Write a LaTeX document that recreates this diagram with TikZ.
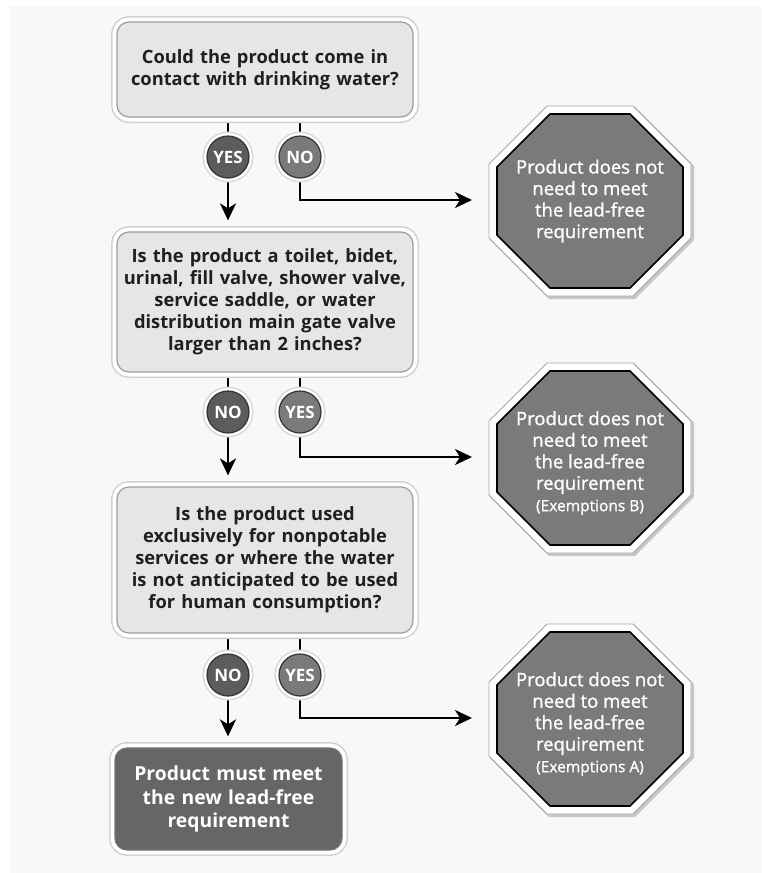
\documentclass[tikz,border=0pt]{standalone}
\usepackage{fontspec}
\setmainfont{Open Sans}
\newfontfamily\octfont[FakeBold=1.2]{Open Sans}
\usetikzlibrary{arrows.meta}
\definecolor{bgc}{HTML}{F8F8F8}
\definecolor{qfill}{HTML}{E6E6E6}
\definecolor{qedge}{HTML}{9C9C9C}
\definecolor{octfill}{HTML}{7A7A7A}
\definecolor{darkc}{HTML}{5C5C5C}
\definecolor{lightc}{HTML}{7A7A7A}
\definecolor{endfill}{HTML}{666666}
\pgfdeclarelayer{bglayer}
\pgfdeclarelayer{linelayer}
\pgfsetlayers{bglayer,linelayer,main}
% octagon path: cx, cy, half width, half height, corner cut
\newcommand\octpath[5]{(#1-#3+#5,#2-#4) -- (#1+#3-#5,#2-#4) -- (#1+#3,#2-#4+#5) -- (#1+#3,#2+#4-#5) -- (#1+#3-#5,#2+#4) -- (#1-#3+#5,#2+#4) -- (#1-#3,#2+#4-#5) -- (#1-#3,#2-#4+#5) -- cycle}
\newcommand\octagon[2]{%
  \fill[black!22] \octpath{#1+2}{#2+2}{102}{96}{59};
  \fill[white,draw=black!35,line width=0.8pt] \octpath{#1}{#2}{101}{95}{58};
  \fill[octfill,draw=black,line width=1.6pt] \octpath{#1}{#2}{93}{87}{53};
}
\tikzset{
  ring/.style={preaction={draw=black!18,line width=12pt},preaction={draw=white,line width=9pt}},
  qbox/.style={ring,draw=qedge,line width=1.2pt,fill=qfill,rounded corners=12pt,
    minimum width=296pt,text width=292pt,align=center,inner sep=0pt,
    font=\bfseries\fontsize{18.3}{22}\selectfont,text=black!88},
  endbox/.style={ring,draw=black!55,line width=1.2pt,fill=endfill,rounded corners=12pt,
    minimum width=227pt,minimum height=102pt,text width=222pt,align=center,inner sep=0pt,
    font=\bfseries\fontsize{19.3}{23.5}\selectfont,text=white},
  ansc/.style={circle,minimum size=42pt,inner sep=0pt,draw=black!80,line width=1.2pt,
    preaction={draw=black!15,line width=9pt},preaction={draw=white,line width=6pt},
    font=\bfseries\fontsize{17}{18}\selectfont,text=white},
  mainans/.style={ansc,fill=darkc},
  sideans/.style={ansc,fill=lightc},
  octtext/.style={align=center,inner sep=0pt,text=white,font=\octfont\fontsize{18.5}{21.5}\selectfont},
  conn/.style={line width=2.6pt,black},
  arr/.style={conn,-{Stealth[length=17pt,width=16pt,inset=5pt]}},
}
\newcommand\exmp[1]{{\fontsize{15.5}{21.5}\selectfont #1}}
\begin{document}
\begin{tikzpicture}[x=1pt,y=-1pt]
\useasboundingbox (0,0) rectangle (761,873);
\begin{pgfonlayer}{bglayer}
  \fill[white] (0,0) rectangle (761,873);
  \fill[bgc] (10,6) rectangle (761,873);
\end{pgfonlayer}

% question boxes
\node[qbox,minimum height=95pt] (q1) at (265,69.5) {Could the product come in\\contact with drinking water?};
\node[qbox,minimum height=140pt] (q2) at (265,302) {Is the product a toilet, bidet,\\urinal, fill valve, shower valve,\\service saddle, or water\\distribution main gate valve\\larger than 2 inches?};
\node[qbox,minimum height=146pt] (q3) at (265,560) {Is the product used\\exclusively for nonpotable\\services or where the water\\is not anticipated to be used\\for human consumption?};
\node[endbox] (fin) at (228.5,799) {Product must meet\\the new lead-free\\requirement};

% octagons
\octagon{590}{201}
\node[octtext] (o1) at (590,201) {Product does not\\need to meet\\the lead-free\\requirement};
\octagon{590}{458}
\node[octtext] (o2) at (590,463) {Product does not\\need to meet\\the lead-free\\requirement\\\exmp{(Exemptions B)}};
\octagon{590}{719}
\node[octtext] (o3) at (590,724) {Product does not\\need to meet\\the lead-free\\requirement\\\exmp{(Exemptions A)}};

\coordinate (t1) at (472,200);
\coordinate (t2) at (472,457);
\coordinate (t3) at (472,718);

% answer circles
\node[mainans] (a1y) at (228,157) {YES};
\node[sideans] (a1n) at (300,157) {NO};
\node[mainans] (a2n) at (228,412) {NO};
\node[sideans] (a2y) at (300,412) {YES};
\node[mainans] (a3n) at (228,675) {NO};
\node[sideans] (a3y) at (300,675) {YES};

\begin{pgfonlayer}{linelayer}
  \draw[conn] (a1y.north |- q1.south) -- (a1y.north);
  \draw[conn] (a1n.north |- q1.south) -- (a1n.north);
  \draw[arr] (a1y.south) -- ([yshift=11pt]a1y.south |- q2.north);
  \draw[arr] (a1n.south) |- (t1);
  \draw[conn] (a2n.north |- q2.south) -- (a2n.north);
  \draw[conn] (a2y.north |- q2.south) -- (a2y.north);
  \draw[arr] (a2n.south) -- ([yshift=11pt]a2n.south |- q3.north);
  \draw[arr] (a2y.south) |- (t2);
  \draw[conn] (a3n.north |- q3.south) -- (a3n.north);
  \draw[conn] (a3y.north |- q3.south) -- (a3y.north);
  \draw[arr] (a3n.south) -- ([yshift=11pt]a3n.south |- fin.north);
  \draw[arr] (a3y.south) |- (t3);
\end{pgfonlayer}
\end{tikzpicture}
\end{document}
